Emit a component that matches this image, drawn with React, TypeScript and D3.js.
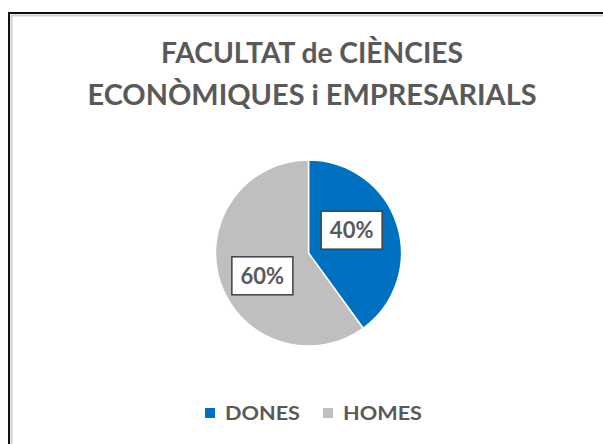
import { useEffect, useRef } from "react";
import * as d3 from "d3";

const titleLines = ["FACULTAT de CIÈNCIES", "ECONÒMIQUES i EMPRESARIALS"];
const categories = ["DONES", "HOMES"];
const values = [40, 60];
const colors = ["#0070C0", "#BFBFBF"];

export default function App() {
    const ref = useRef<SVGSVGElement>(null);

    useEffect(() => {
        const svg = d3.select(ref.current);
        svg.selectAll("*").remove();

        const W = 603, H = 444;
        const font = "Lato, 'Open Sans', sans-serif";
        const textColor = "#595959";

        // chart border (outer dark line + light inner line), runs off the page right/bottom
        svg.append("rect")
            .attr("x", 11.5).attr("y", 15.5).attr("width", W).attr("height", H)
            .attr("fill", "none").attr("stroke", "#d0d0d0").attr("stroke-width", 2);
        svg.append("rect")
            .attr("x", 9).attr("y", 13).attr("width", W).attr("height", H)
            .attr("fill", "none").attr("stroke", "#111").attr("stroke-width", 2);

        // title
        const titleW = [302, 449];
        svg.append("g").selectAll("text")
            .data(titleLines)
            .join("text")
            .attr("x", 312)
            .attr("y", (d, i) => 63 + i * 42)
            .attr("text-anchor", "middle")
            .attr("font-family", font)
            .attr("font-weight", "bold")
            .attr("font-size", 28)
            .attr("textLength", (d, i) => titleW[i])
            .attr("lengthAdjust", "spacingAndGlyphs")
            .attr("fill", textColor)
            .text(d => d);

        // pie
        const cx = 308.5, cy = 253, r = 93;
        const pie = d3.pie<number>().sort(null).value(d => d);
        const arcs = pie(values);
        const arc = d3.arc<d3.PieArcDatum<number>>().innerRadius(0).outerRadius(r);
        const labelArc = d3.arc<d3.PieArcDatum<number>>().innerRadius(r * 0.55).outerRadius(r * 0.55);
        const total = d3.sum(values);
        const nudge = [[-6, -7], [2, 7]];

        const g = svg.append("g").attr("transform", `translate(${cx},${cy})`);
        g.selectAll("path")
            .data(arcs)
            .join("path")
            .attr("d", arc)
            .attr("fill", (d, i) => colors[i])
            .attr("stroke", "#fff")
            .attr("stroke-width", 1.5);

        const labels = g.selectAll("g.lbl")
            .data(arcs)
            .join("g")
            .attr("class", "lbl")
            .attr("transform", (d, i) => {
                const [x, y] = labelArc.centroid(d);
                return `translate(${x + nudge[i][0]},${y + nudge[i][1]})`;
            });
        labels.append("rect")
            .attr("x", -30).attr("y", -19).attr("width", 61).attr("height", 38)
            .attr("fill", "#fff").attr("stroke", "#404040").attr("stroke-width", 1.5);
        labels.append("text")
            .attr("x", 0.5)
            .attr("dy", "0.36em")
            .attr("text-anchor", "middle")
            .attr("font-family", font)
            .attr("font-weight", "bold")
            .attr("font-size", 22)
            .attr("fill", textColor)
            .text(d => `${Math.round(d.data / total * 100)}%`);

        // legend
        const legX = [205, 323];
        const legW = [75, 79];
        const leg = svg.append("g").selectAll("g")
            .data(categories)
            .join("g")
            .attr("transform", (d, i) => `translate(${legX[i]},408)`);
        leg.append("rect")
            .attr("width", 10).attr("height", 10)
            .attr("fill", (d, i) => colors[i]);
        leg.append("text")
            .attr("x", 20).attr("y", 12)
            .attr("font-family", font)
            .attr("font-weight", "bold")
            .attr("font-size", 19)
            .attr("textLength", (d, i) => legW[i])
            .attr("lengthAdjust", "spacingAndGlyphs")
            .attr("fill", textColor)
            .text(d => d);
    }, []);

    return (
        <svg ref={ref} width={603} height={444}
            style={{ position: "absolute", left: 0, top: 0, background: "#fff" }} />
    );
}
